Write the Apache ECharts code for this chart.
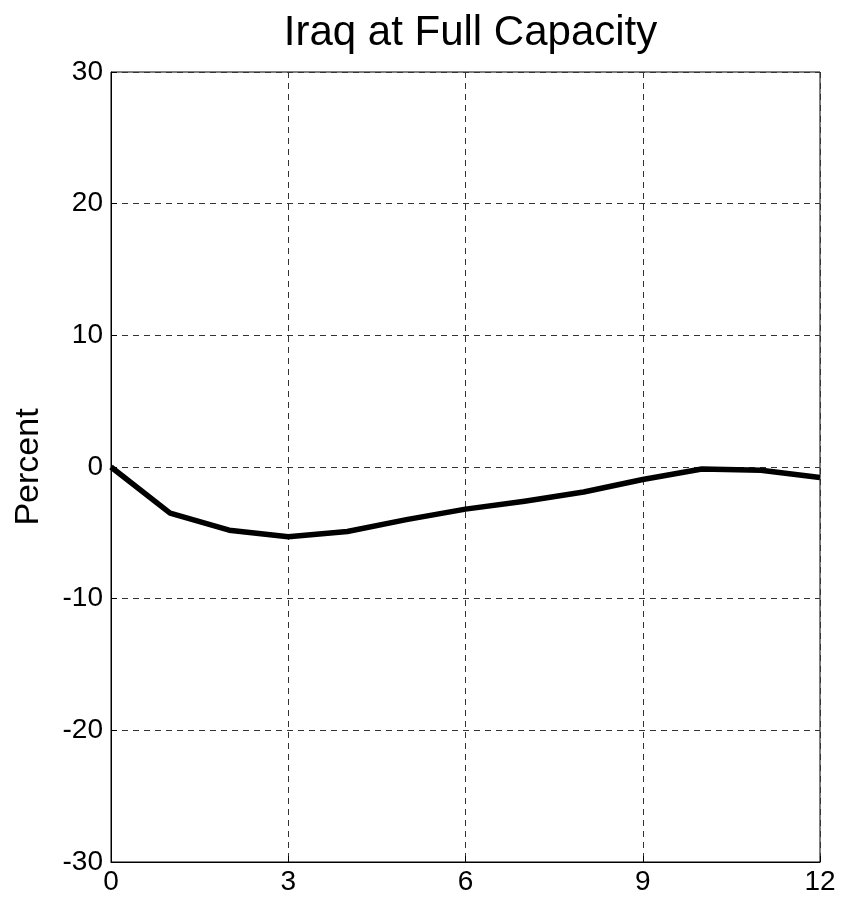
<!DOCTYPE html>
<html>
<head>
<meta charset="utf-8">
<script src="https://cdn.jsdelivr.net/npm/echarts@6/dist/echarts.min.js"></script>
<style>
html,body{margin:0;padding:0;background:#fff;}
#chart{width:842px;height:899px;}
</style>
</head>
<body>
<div id="chart"></div>
<script>
var titleText = "Iraq at Full Capacity";
var yAxisName = "Percent";
var months = [0, 1, 2, 3, 4, 5, 6, 7, 8, 9, 10, 11, 12];
var values = [0, -3.5, -4.8, -5.3, -4.9, -4.0, -3.2, -2.6, -1.9, -0.95, -0.15, -0.25, -0.8];

var seriesData = months.map(function (m, i) { return [m, values[i]]; });

var font = "'Liberation Sans', Arial, Helvetica, sans-serif";
var chart = echarts.init(document.getElementById('chart'), null, {renderer: 'canvas'});
chart.setOption({
  backgroundColor: '#ffffff',
  animation: false,
  title: {
    text: titleText,
    left: 465.5,
    textAlign: 'center',
    top: 7,
    textStyle: {fontFamily: font, fontSize: 42, fontWeight: 'normal', color: '#000'}
  },
  grid: {
    left: 111, right: 22, top: 72, bottom: 37,
    show: true, borderColor: '#000', borderWidth: 1, backgroundColor: 'transparent'
  },
  xAxis: {
    type: 'value', min: 0, max: 12, interval: 3,
    axisLine: {show: true, onZero: false, lineStyle: {color: '#000', width: 1}},
    axisTick: {show: true, inside: true, length: 6, lineStyle: {color: '#000'}},
    axisLabel: {fontFamily: font, fontSize: 28, color: '#000', margin: 6},
    splitLine: {show: true, lineStyle: {color: '#333', width: 1, type: [6, 5]}}
  },
  yAxis: {
    type: 'value', min: -30, max: 30, interval: 10,
    name: yAxisName, nameLocation: 'middle', nameGap: 65,
    nameTextStyle: {fontFamily: font, fontSize: 34, color: '#000'},
    axisLine: {show: true, onZero: false, lineStyle: {color: '#000', width: 1}},
    axisTick: {show: true, inside: true, length: 6, lineStyle: {color: '#000'}},
    axisLabel: {fontFamily: font, fontSize: 28, color: '#000', margin: 8},
    splitLine: {show: true, lineStyle: {color: '#333', width: 1, type: [6, 5]}}
  },
  series: [{
    type: 'line',
    data: seriesData,
    showSymbol: false,
    lineStyle: {color: '#000', width: 5.5, join: 'round'},
    itemStyle: {color: '#000'}
  }]
});
</script>
</body>
</html>
